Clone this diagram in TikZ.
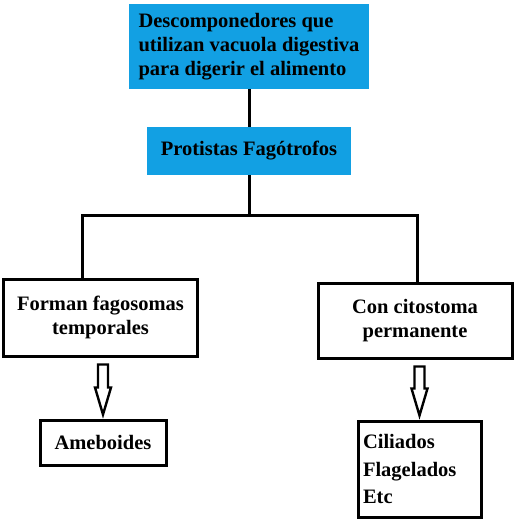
\documentclass[tikz,border=0pt]{standalone}
\usepackage{fontspec}
\setmainfont{Liberation Serif}
\usepackage{tikz}
\usetikzlibrary{arrows.meta,positioning,calc}
\definecolor{cyanbox}{HTML}{12A0E3}
\definecolor{ink}{HTML}{000000}
\tikzset{txt/.style={font=\bfseries\fontsize{20.5}{24}\selectfont,text=ink,inner sep=0pt},
  bluebox/.style={txt,fill=cyanbox,draw=none},
  linebox/.style={txt,draw=ink,line width=3pt,fill=white},
  link/.style={draw=ink,line width=3pt},
  hollow/.style={draw=ink,line width=2.4pt,fill=white,line join=miter}}

\begin{document}
\begin{tikzpicture}[x=1pt,y=-1pt]
\useasboundingbox[fill=white] (0,0) rectangle (520,525);
\node[bluebox,minimum width=240,minimum height=85,align=left] (desc) at (249,46.5) {Descomponedores que\\utilizan vacuola digestiva\\para digerir el alimento};
\node[bluebox,minimum width=204,minimum height=48] (prot) at (249,151) {Protistas Fagótrofos};
\node[linebox,minimum width=194,minimum height=77,align=center] (fl) at (100.5,317.5) {Forman fagosomas\\temporales};
\node[linebox,minimum width=194,minimum height=75,align=center] (cp) at (415,320.5) {Con citostoma\\permanente};
\node[linebox,minimum width=126,minimum height=45] (ameb) at (103,442.5) {Ameboides};
\node[linebox,minimum width=123,minimum height=96,align=left,text width=113,font=\bfseries\fontsize{20.5}{27.5}\selectfont] (cil) at (419.5,469) {Ciliados\\Flagelados\\Etc};
\coordinate (split) at (249,215);
\draw[link] (desc.south) -- (prot.north);
\draw[link] (prot.south) -- (split) -| ([xshift=-18pt]fl.north);
\draw[link] (split) -| ([xshift=2pt]cp.north);
\draw[hollow] let \p1=(fl.south), \p2=(ameb.north) in
  (\x2-5pt,\y1-7pt) -- (\x2+5pt,\y1-7pt) -- (\x2+5pt,\y2+31pt) -- (\x2+8pt,\y2+31pt)
  -- (\x2,\y2+4pt) -- (\x2-8pt,\y2+31pt) -- (\x2-5pt,\y2+31pt) -- cycle;
\draw[hollow] let \p1=(cp.south), \p2=(cil.north) in
  (\x2-5pt,\y1-7pt) -- (\x2+5pt,\y1-7pt) -- (\x2+5pt,\y2+31pt) -- (\x2+8pt,\y2+31pt)
  -- (\x2,\y2+4pt) -- (\x2-8pt,\y2+31pt) -- (\x2-5pt,\y2+31pt) -- cycle;
\end{tikzpicture}
\end{document}
